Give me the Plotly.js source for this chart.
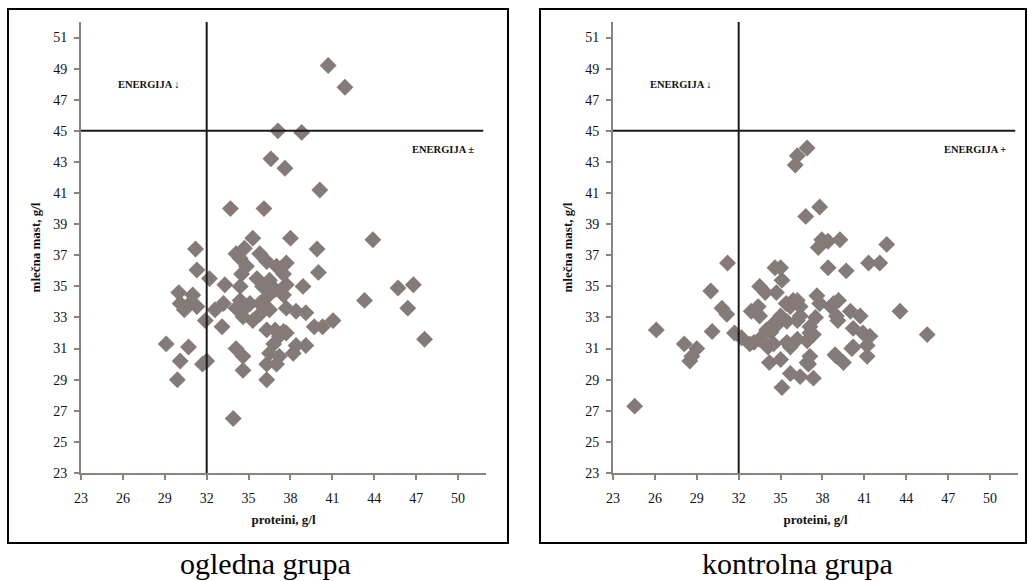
<!DOCTYPE html>
<html>
<head>
<meta charset="utf-8">
<script src="https://cdn.plot.ly/plotly-3.0.1.min.js"></script>
<style>html,body{margin:0;padding:0;background:#fff;}#chart{width:1028px;height:581px;}</style>
</head>
<body>
<div id="chart"></div>
<script>
// ogledna grupa (experimental group): proteini g/l (x), mlečna mast g/l (y)
const ogledProteini = [40.7,41.9,37.1,38.8,36.6,37.6,40.1,33.7,36.1,35.3,38.0,43.9,31.2,39.9,34.1,34.7,34.4,35.8,36.3,37.0,37.7,37.5,40.0,31.3,32.2,33.3,34.5,34.85,34.4,35.6,36.0,36.5,36.9,37.5,37.7,38.9,30.0,31.0,30.1,30.8,31.3,30.4,31.9,32.6,33.2,34.4,34.1,34.85,34.6,35.3,35.1,35.8,36.3,36.5,35.8,37.7,38.4,39.1,39.7,40.3,41.05,33.1,36.3,36.9,37.2,37.7,36.8,38.4,39.1,38.2,36.5,37.2,29.1,30.7,30.1,32.0,31.7,34.1,34.6,34.6,29.9,36.3,36.3,37.0,33.9,45.7,46.8,46.4,47.6,43.3,37.5];
const ogledMast     = [49.2,47.8,45.0,44.9,43.2,42.6,41.2,40.0,40.0,38.1,38.1,38.0,37.4,37.4,37.1,37.45,36.8,37.1,36.6,36.3,36.5,35.8,35.9,36.05,35.5,35.1,35.8,36.3,35.0,35.5,35.0,35.4,34.8,34.45,35.1,35.0,34.6,34.45,33.9,33.9,33.7,33.5,32.8,33.5,33.9,34.1,33.6,33.7,33.05,32.8,33.9,33.9,34.3,33.5,33.2,33.6,33.4,33.3,32.4,32.4,32.8,32.4,32.2,32.2,31.8,32.0,31.3,31.2,31.2,30.7,30.7,30.5,31.3,31.1,30.2,30.2,30.0,31.0,30.5,29.6,29.0,29.0,30.0,30.0,26.5,34.9,35.1,33.6,31.6,34.1,32.1];

// kontrolna grupa (control group)
const kontrolProteini = [24.55,26.1,28.1,28.65,29.0,28.5,30.0,30.1,30.8,31.15,31.2,31.7,32.2,32.8,32.9,33.4,33.5,33.9,34.1,34.2,34.6,35.0,35.1,34.7,35.1,35.0,35.7,36.4,36.2,36.05,36.9,36.8,37.8,37.7,37.95,38.4,39.25,38.4,39.7,41.3,42.1,42.6,43.55,45.5,37.35,37.0,38.9,39.5,40.1,41.2,41.2,41.4,40.7,40.0,40.2,39.1,39.15,38.6,37.6,37.5,37.1,37.35,36.9,35.7,36.2,35.7,36.2,35.45,34.7,34.3,33.5,34.5,33.1,33.8,34.0,34.5,35.0,35.4,35.9,36.4,36.4,37.1,36.2,35.45,37.8,38.8,39.0,40.9,40.2,39.0,36.9,37.1,33.5];
const kontrolMast     = [27.3,32.2,31.3,30.5,31.0,30.2,34.7,32.1,33.6,33.2,36.5,32.0,31.7,31.3,33.4,33.7,35.0,34.6,31.1,30.1,36.2,36.2,35.4,34.6,28.5,30.3,29.4,29.2,43.4,42.8,43.9,39.5,40.1,37.5,38.0,37.9,38.0,36.2,36.0,36.5,36.5,37.7,33.4,31.9,29.1,30.0,30.6,30.1,31.0,30.5,31.2,31.8,33.1,33.4,32.3,32.8,34.1,33.7,34.4,33.0,32.4,31.9,31.5,31.1,32.8,33.7,34.1,32.75,32.5,32.05,31.6,31.3,31.4,31.4,32.2,32.6,33.1,33.9,34.1,33.7,33.1,32.0,31.6,31.4,33.9,33.9,33.1,32.0,31.1,30.5,30.1,30.5,33.1];

const xTicks = [23,26,29,32,35,38,41,44,47,50];
const yTicks = [23,25,27,29,31,33,35,37,39,41,43,45,47,49,51];
const xTitle = 'proteini, g/l';
const yTitle = 'mlečna mast, g/l';
const captions = ['ogledna grupa', 'kontrolna grupa'];
const quadrantLabels = [['ENERGIJA ↓', 'ENERGIJA ±'], ['ENERGIJA ↓', 'ENERGIJA +']];
const proteinLimit = 32;
const fatLimit = 45;

const W = 1028, H = 581;
const markerColor = 'rgb(132,123,120)';
const axisColor = 'rgb(140,131,128)';
const serif = 'Times New Roman, Liberation Serif, DejaVu Serif, serif';

function px(v){ return v / W; }
function py(v){ return 1 - v / H; }

const traces = [
  {x: ogledProteini, y: ogledMast, type:'scatter', mode:'markers', xaxis:'x', yaxis:'y',
   marker:{symbol:'diamond', size:13, color:markerColor}, showlegend:false, hoverinfo:'x+y'},
  {x: kontrolProteini, y: kontrolMast, type:'scatter', mode:'markers', xaxis:'x2', yaxis:'y2',
   marker:{symbol:'diamond', size:13, color:markerColor}, showlegend:false, hoverinfo:'x+y'}
];

function xAxis(domain, anchor){
  return {domain: domain, anchor: anchor, range:[23,52], tickmode:'array', tickvals:xTicks,
    showgrid:false, zeroline:false, showline:true, linecolor:axisColor, linewidth:2,
    ticks:'outside', ticklen:5, tickwidth:2, tickcolor:axisColor, ticklabelstandoff:6,
    tickfont:{family:serif, size:14, color:'#111'},
    title:{text:xTitle, font:{family:serif, size:13, color:'#111', weight:'bold'}, standoff:10}};
}
function yAxis(domain, anchor){
  return {domain: domain, anchor: anchor, range:[23,52], tickmode:'array', tickvals:yTicks,
    showgrid:false, zeroline:false, showline:true, linecolor:axisColor, linewidth:2,
    ticks:'outside', ticklen:5, tickwidth:2, tickcolor:axisColor, ticklabelstandoff:4,
    tickfont:{family:serif, size:14, color:'#111'},
    title:{text:yTitle, font:{family:serif, size:13, color:'#111', weight:'bold'}, standoff:10}};
}

const yDom = [py(473), py(22)];
const layout = {
  width: W, height: H, margin:{l:0,r:0,t:0,b:0},
  font:{family:serif},
  paper_bgcolor:'#fff', plot_bgcolor:'#fff', showlegend:false,
  xaxis: xAxis([px(81), px(486)], 'y'),
  yaxis: yAxis(yDom, 'x'),
  xaxis2: xAxis([px(613), px(1018)], 'y2'),
  yaxis2: yAxis(yDom, 'x2'),
  shapes: [],
  annotations: []
};

[['x','y'],['x2','y2']].forEach(function(ax, i){
  layout.shapes.push({type:'line', xref:ax[0], yref:ax[1], x0:proteinLimit, x1:proteinLimit, y0:23, y1:52,
    line:{color:'#1a1a1a', width:2}});
  layout.shapes.push({type:'line', xref:ax[0], yref:ax[1], x0:23, x1:51.8, y0:fatLimit, y1:fatLimit,
    line:{color:'#1a1a1a', width:2}});
  layout.annotations.push({xref:ax[0], yref:ax[1], x:27.9, y:48.0, xanchor:'center', yanchor:'middle',
    text:quadrantLabels[i][0], showarrow:false,
    font:{family:serif, size:10.5, color:'#111', weight:'bold'}});
  layout.annotations.push({xref:ax[0], yref:ax[1], x:48.9, y:43.8, xanchor:'center', yanchor:'middle',
    text:quadrantLabels[i][1], showarrow:false,
    font:{family:serif, size:10.5, color:'#111', weight:'bold'}});
});

// panel frames
layout.shapes.push({type:'rect', xref:'paper', yref:'paper', x0:px(8), x1:px(508), y0:py(543), y1:py(9),
  line:{color:'#000', width:2}});
layout.shapes.push({type:'rect', xref:'paper', yref:'paper', x0:px(540), x1:px(1026), y0:py(543), y1:py(9),
  line:{color:'#000', width:2}});

// captions
layout.annotations.push({xref:'paper', yref:'paper', x:px(265), y:py(563), xanchor:'center', yanchor:'middle',
  text:captions[0], showarrow:false, font:{family:serif, size:30, color:'#000'}});
layout.annotations.push({xref:'paper', yref:'paper', x:px(797), y:py(563), xanchor:'center', yanchor:'middle',
  text:captions[1], showarrow:false, font:{family:serif, size:30, color:'#000'}});

Plotly.newPlot('chart', traces, layout, {displayModeBar:false, staticPlot:true});
</script>
</body>
</html>
